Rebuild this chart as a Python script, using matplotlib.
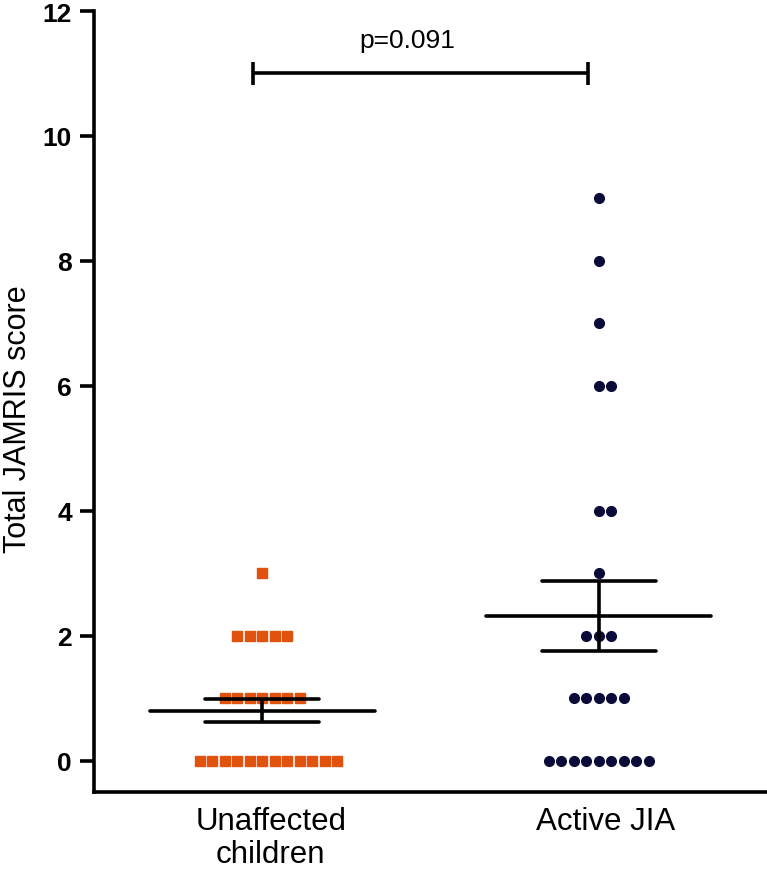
import numpy as np
import matplotlib.pyplot as plt

plt.rcParams['font.family'] = ['Liberation Sans', 'DejaVu Sans']

groups = ['Unaffected\nchildren', 'Active JIA']
unaffected = [0]*12 + [1]*7 + [2]*5 + [3]
active_jia = [0]*9 + [1]*5 + [2]*3 + [3] + [4]*2 + [6]*2 + [7, 8, 9]
p_text = 'p=0.091'

colors = ['#E0520E', '#0B0B3A']
markers = ['s', 'o']
msizes = [6.6, 7.0]

fig = plt.figure(figsize=(7.67, 8.70), dpi=100)
ax = fig.add_axes([0.1226, 0.0885, 0.8774, 0.8977])

spacing = 0.037
for i, vals in enumerate([unaffected, active_jia]):
    vals = np.array(vals)
    # prism-like column scatter: points at same value spread side by side
    xs, ys = [], []
    for v in np.unique(vals):
        n = np.sum(vals == v)
        off = (np.arange(n) - (n - 1) / 2) * spacing
        if n % 2 == 0:
            off = off + spacing / 2
        xs.extend(i + off)
        ys.extend([v] * n)
    ax.plot(xs, ys, linestyle='none', marker=markers[i], ms=msizes[i],
            color=colors[i], mec=colors[i], zorder=2)

    mean = vals.mean()
    sem = vals.std(ddof=1) / np.sqrt(len(vals))
    ax.hlines(mean, i - 0.335, i + 0.335, color='black', lw=2.6, zorder=3,
              capstyle='round')
    ax.hlines([mean - sem, mean + sem], i - 0.17, i + 0.17, color='black',
              lw=2.6, zorder=3, capstyle='round')
    ax.vlines(i, mean - sem, mean + sem, color='black', lw=2.6, zorder=3)

# significance bar
ax.hlines(11, -0.027, 0.967, color='black', lw=2.6)
ax.vlines([-0.027, 0.967], 10.81, 11.19, color='black', lw=2.6)
ax.text(0.43, 11.35, p_text, ha='center', va='bottom', fontsize=19)

ax.set_xlim(-0.5, 1.5)
ax.set_ylim(-0.5, 12)
ax.set_yticks(range(0, 13, 2))
ax.set_xticks([0.025, 1.02])
ax.set_xticklabels(groups, fontsize=22.5, linespacing=1.12)
for lab in ax.get_yticklabels():
    lab.set_fontweight('bold')
    lab.set_fontsize(19)
ax.tick_params(axis='y', length=10, width=2.6, pad=6)
ax.tick_params(axis='x', length=0, pad=10)
ax.set_ylabel('Total JAMRIS score', fontsize=22)
ax.yaxis.set_label_coords(-0.091, 0.479)

ax.spines['top'].set_visible(False)
ax.spines['right'].set_visible(False)
ax.spines['left'].set_linewidth(2.6)
ax.spines['bottom'].set_linewidth(2.6)

fig.savefig('out.png', dpi=100)
